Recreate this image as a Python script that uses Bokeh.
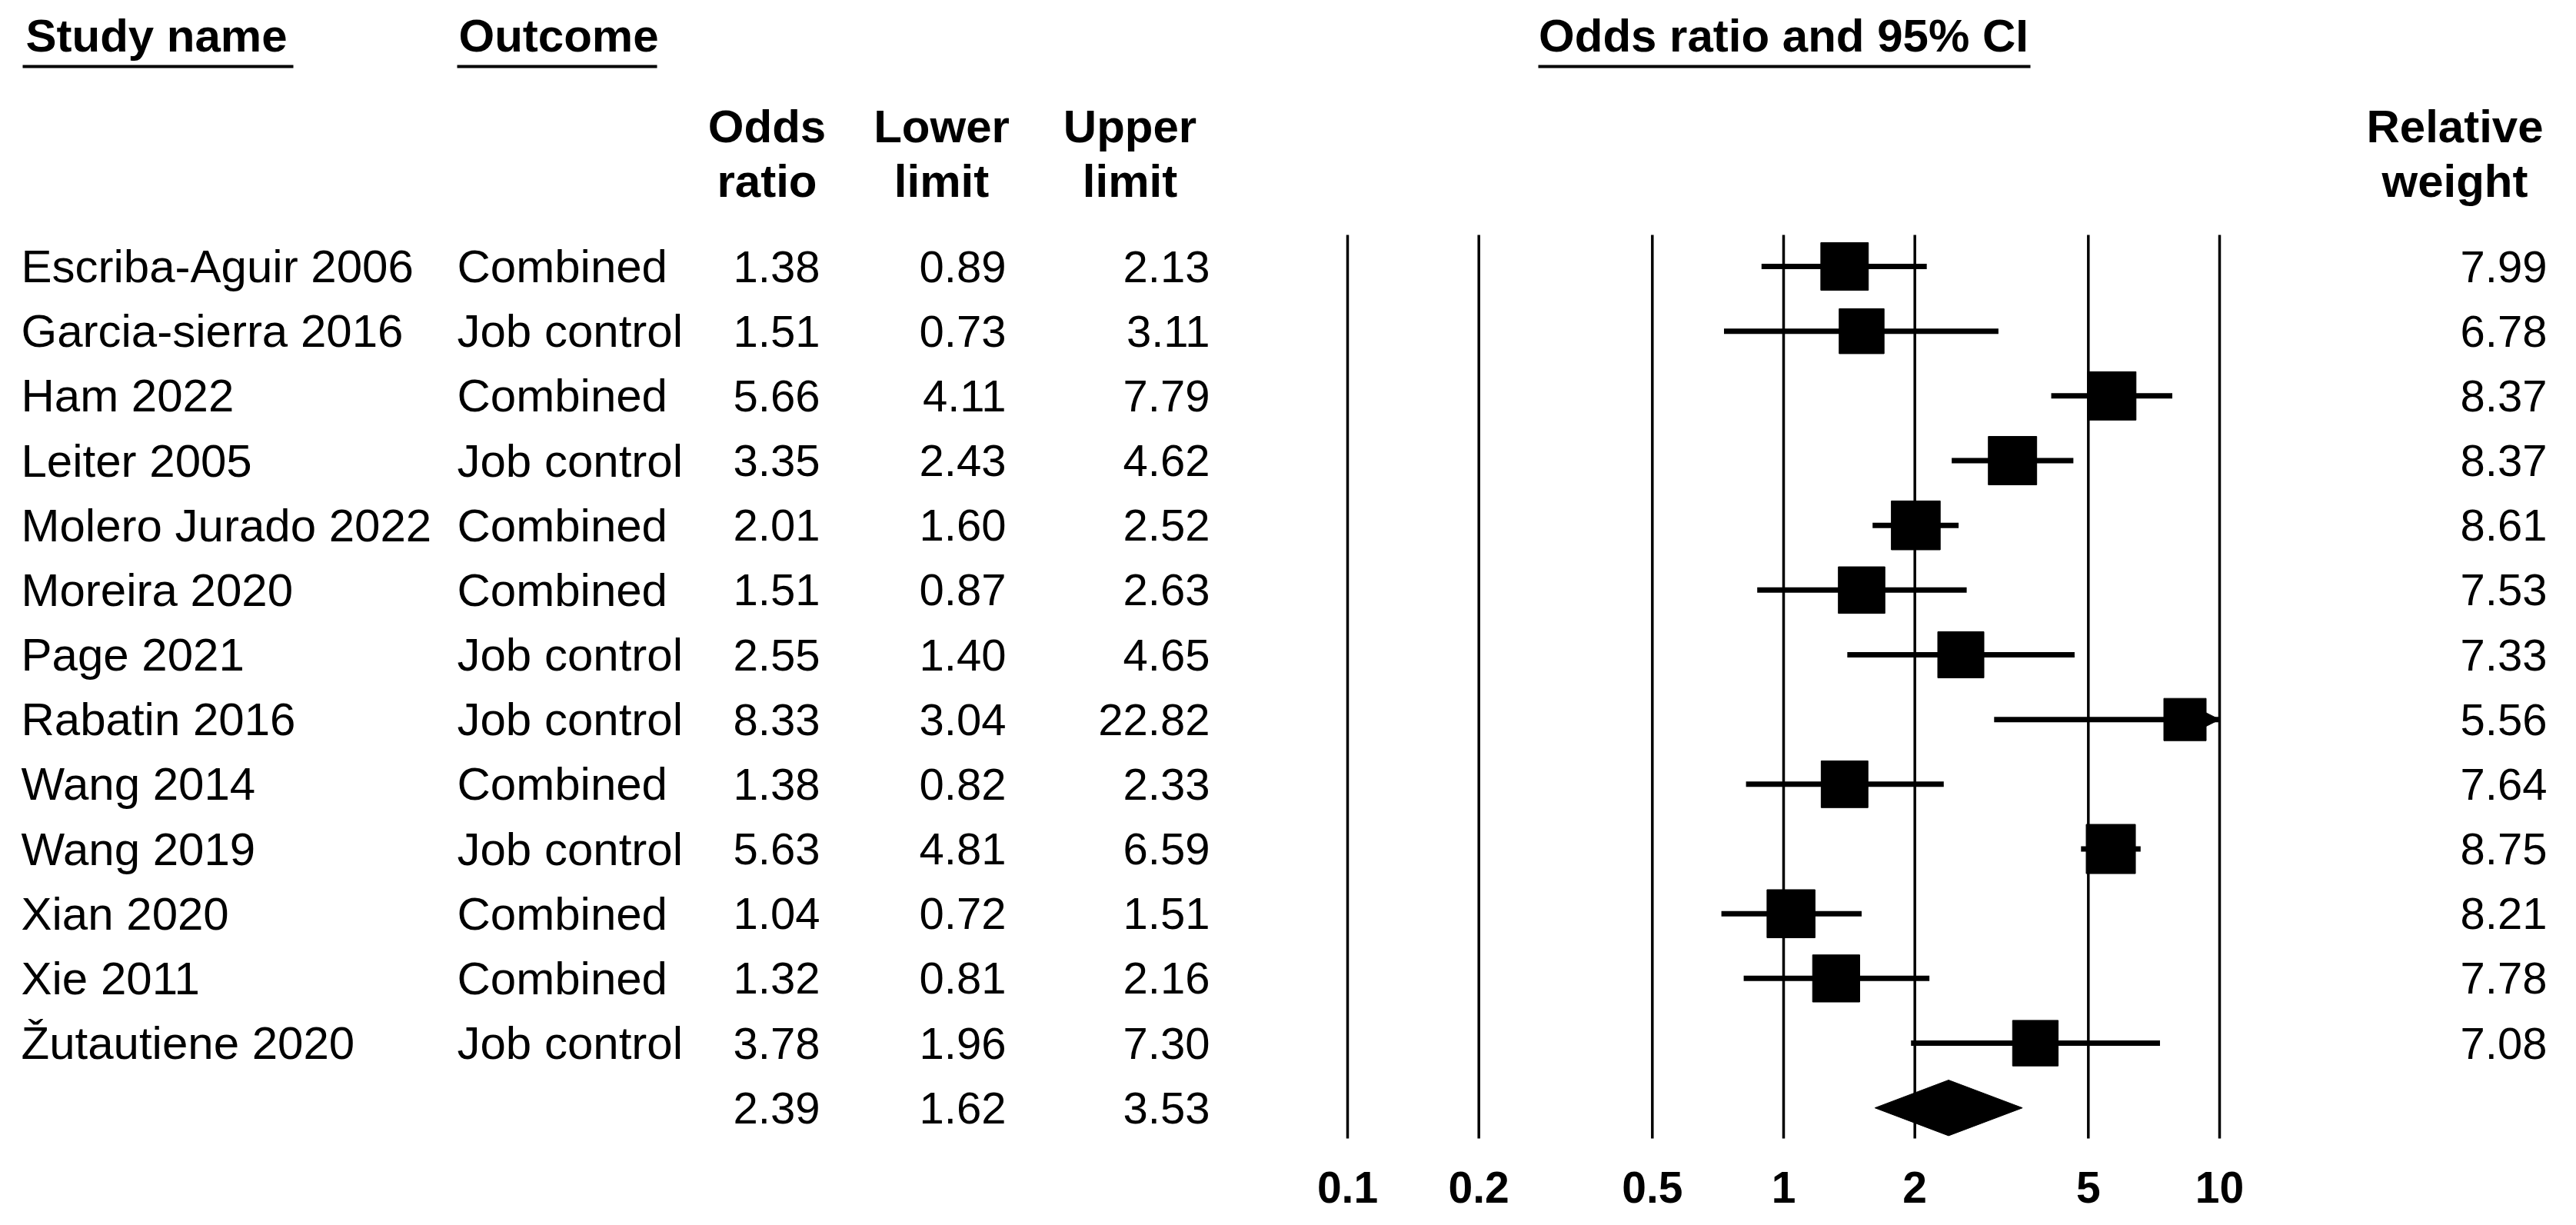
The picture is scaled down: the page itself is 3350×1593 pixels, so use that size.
from bokeh.plotting import figure
from bokeh.models import Range1d, LogScale, ColumnDataSource, Arrow, NormalHead
from bokeh.core.properties import value
from bokeh.embed import file_html
from bokeh.resources import INLINE

# ---------------- data ----------------
studies = ["Escriba-Aguir 2006", "Garcia-sierra 2016", "Ham 2022", "Leiter 2005",
           "Molero Jurado 2022", "Moreira 2020", "Page 2021", "Rabatin 2016",
           "Wang 2014", "Wang 2019", "Xian 2020", "Xie  2011", "Žutautiene 2020"]
outcomes = ["Combined", "Job control", "Combined", "Job control", "Combined", "Combined",
            "Job control", "Job control", "Combined", "Job control", "Combined", "Combined",
            "Job control"]
odds_ratio = [1.38, 1.51, 5.66, 3.35, 2.01, 1.51, 2.55, 8.33, 1.38, 5.63, 1.04, 1.32, 3.78]
lower_limit = [0.89, 0.73, 4.11, 2.43, 1.60, 0.87, 1.40, 3.04, 0.82, 4.81, 0.72, 0.81, 1.96]
upper_limit = [2.13, 3.11, 7.79, 4.62, 2.52, 2.63, 4.65, 22.82, 2.33, 6.59, 1.51, 2.16, 7.30]
rel_weight = [7.99, 6.78, 8.37, 8.37, 8.61, 7.53, 7.33, 5.56, 7.64, 8.75, 8.21, 7.78, 7.08]
summary_or = 2.39
summary_lower = 1.62
summary_upper = 3.53
axis_ticks = [0.1, 0.2, 0.5, 1, 2, 5, 10]
axis_tick_labels = ["0.1", "0.2", "0.5", "1", "2", "5", "10"]

# ---------------- layout ----------------
W, H = 3334, 1577
PITCH = 84.17          # px per row
ROW0 = 346             # px of first row centre
DEC = 567              # px per decade on the log axis
X01 = 1752             # px of 0.1
XMIN, XMAX = 0.1, 10
TSHIFT = 22            # renderer places alphabetic baseline this much lower

lo_exp = -1 - X01 / DEC
hi_exp = -1 + (W - X01) / DEC

def yu(px):
    return (px - ROW0) / PITCH

def ytxt(baseline_px):
    return yu(baseline_px - TSHIFT)

p = figure(width=W, height=H, output_backend="svg", toolbar_location=None,
           x_range=Range1d(0, W), y_range=Range1d(yu(H), yu(0)),
           x_axis_location=None, y_axis_location=None, min_border=0,
           outline_line_color=None, background_fill_color="white",
           border_fill_color="white")
p.extra_x_ranges = {"or": Range1d(10 ** lo_exp, 10 ** hi_exp)}
p.extra_x_scales = {"or": LogScale()}
p.xgrid.visible = False
p.ygrid.visible = False

FONT = value("Liberation Sans")
FS = value("60px")

n = len(studies)
rows = list(range(n))

# vertical reference lines
p.segment(x0=axis_ticks, x1=axis_ticks, y0=[yu(305)] * len(axis_ticks),
          y1=[yu(1480)] * len(axis_ticks),
          line_color="black", line_width=3.5, x_range_name="or")

# CI lines
up_clip = [min(u, XMAX) for u in upper_limit]
lo_clip = [max(l, XMIN) for l in lower_limit]
p.segment(x0=lo_clip, x1=up_clip, y0=rows, y1=rows, line_color="black", line_width=7,
          x_range_name="or")

# arrows for CIs running off the scale
arr_idx = [i for i in rows if upper_limit[i] > XMAX]
arr_src = ColumnDataSource(dict(x0=[odds_ratio[i] for i in arr_idx], x1=[XMAX] * len(arr_idx),
                                y=[i for i in arr_idx]))
p.add_layout(Arrow(end=NormalHead(size=26, fill_color="black", line_color="black"),
                   x_start="x0", x_end="x1", y_start="y", y_end="y", source=arr_src,
                   line_color="black", line_width=7, x_range_name="or"))

# squares sized by weight
wmin, wmax = min(rel_weight), max(rel_weight)
sizes = [55 + (w - wmin) * (64 - 55) / (wmax - wmin) for w in rel_weight]
p.scatter(x=odds_ratio, y=rows, marker="square", size=sizes, fill_color="black",
          line_color="black", x_range_name="or")

# summary diamond
sy = n
p.patch(x=[summary_lower, summary_or, summary_upper, summary_or],
        y=[sy, sy - 0.43, sy, sy + 0.43], fill_color="black", line_color="black",
        x_range_name="or")

# tick labels
p.text(x=axis_ticks, y=[ytxt(1565)] * len(axis_ticks), text=axis_tick_labels,
       text_align="center", text_baseline="alphabetic", text_font=FONT,
       text_font_size=value("57px"), text_font_style="bold", text_color="black",
       x_range_name="or")

# table text
yb = [ytxt(ROW0 + 22 + r * PITCH) for r in rows]
sb = ytxt(ROW0 + 22 + sy * PITCH)
p.text(x=[27] * n, y=yb, text=studies, text_align="left", text_baseline="alphabetic",
       text_font=FONT, text_font_size=FS, text_color="black")
p.text(x=[594] * n, y=yb, text=outcomes, text_align="left", text_baseline="alphabetic",
       text_font=FONT, text_font_size=FS, text_color="black")
cols = [(1066, odds_ratio, summary_or), (1308, lower_limit, summary_lower),
        (1573, upper_limit, summary_upper)]
for xr, vals, sv in cols:
    p.text(x=[xr] * (n + 1), y=yb + [sb], text=[f"{v:.2f}" for v in vals] + [f"{sv:.2f}"],
           text_align="right", text_baseline="alphabetic", text_font=FONT,
           text_font_size=value("58px"), text_color="black")
p.text(x=[3312] * n, y=yb, text=[f"{w:.2f}" for w in rel_weight], text_align="right",
       text_baseline="alphabetic", text_font=FONT, text_font_size=value("58px"),
       text_color="black")

# headers
hy = ytxt(68)
p.text(x=[33, 596], y=[hy, hy], text=["Study name", "Outcome"], text_align="left",
       text_baseline="alphabetic", text_font=FONT, text_font_size=FS, text_font_style="bold",
       text_color="black")
p.text(x=[1], y=[hy], text=["Odds ratio and 95% CI"], text_align="center",
       text_baseline="alphabetic", text_font=FONT, text_font_size=FS, text_font_style="bold",
       text_color="black", x_range_name="or")
uy = yu(86)
p.segment(x0=[29, 594, 2000], x1=[381, 854, 2640], y0=[uy] * 3, y1=[uy] * 3,
          line_color="black", line_width=4)

h1, h2 = ytxt(186), ytxt(257)
hx = [997, 1224, 1469, 3192]
p.text(x=hx, y=[h1] * 4, text=["Odds", "Lower", "Upper", "Relative"], text_align="center",
       text_baseline="alphabetic", text_font=FONT, text_font_size=FS, text_font_style="bold",
       text_color="black")
p.text(x=hx, y=[h2] * 4, text=["ratio", "limit", "limit", "weight"], text_align="center",
       text_baseline="alphabetic", text_font=FONT, text_font_size=FS, text_font_style="bold",
       text_color="black")

open("out.html", "w").write(file_html(p, INLINE))
